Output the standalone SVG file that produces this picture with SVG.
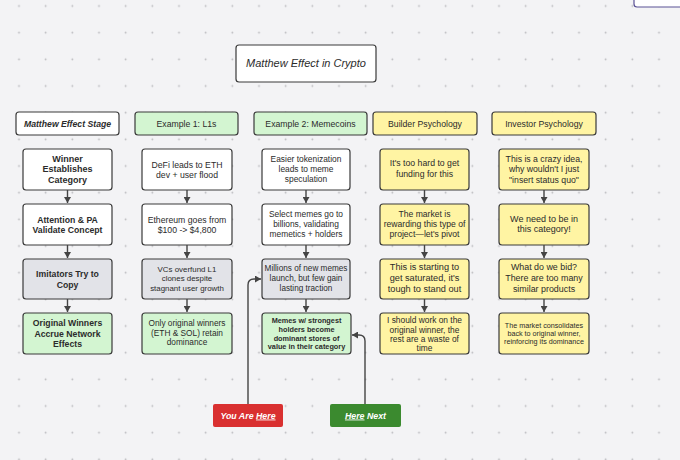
<svg xmlns="http://www.w3.org/2000/svg" width="680" height="460" viewBox="0 0 680 460">
<style>
text{font-family:"Liberation Sans",Arial,sans-serif;fill:#2b2b2b;text-anchor:middle;font-size:8.7px}
.b{font-weight:bold}
.i{font-style:italic}
.box{stroke:#3a3a3a;stroke-width:1.2}
.w{fill:#ffffff}
.g{fill:#e2e3e8}
.gr{fill:#d3f5d1}
.y{fill:#fff4a3}
.conn{fill:none;stroke:#444;stroke-width:1.4}
.wt{fill:#ffffff;font-weight:bold;font-style:italic;font-size:8.8px}
</style>
<defs>
<pattern id="dots" patternUnits="userSpaceOnUse" x="5.667" y="-7.333" width="26.667" height="26.667">
<circle cx="13.333" cy="13.333" r="0.9" fill="#b8b8bc"/>
</pattern>
<marker id="ah" markerUnits="userSpaceOnUse" markerWidth="7" markerHeight="7" refX="6" refY="3.5" orient="auto">
<path d="M0,0 L6,3.5 L0,7 z" fill="#444"/>
</marker>
</defs>
<rect width="680" height="460" fill="#f3f3f5"/>
<rect width="680" height="460" fill="url(#dots)"/>
<rect x="634" y="-10" width="60" height="17" rx="3" fill="#fff" stroke="#5b5295" stroke-width="1.2"/>

<g id="title"><rect class="box w" x="236" y="45" width="140" height="37" rx="3"/><text class="i" x="306" y="67" style="font-size:11px">Matthew Effect in Crypto</text></g>

<g id="h1"><rect class="box w" x="16" y="112" width="103" height="23" rx="3"/><text class="b i" x="67.5" y="126.5">Matthew Effect Stage</text></g>
<g id="h2"><rect class="box gr" x="135" y="112" width="103" height="23" rx="3"/><text x="186.5" y="126.5">Example 1: L1s</text></g>
<g id="h3"><rect class="box gr" x="254" y="112" width="113" height="23" rx="3"/><text x="310.5" y="126.5">Example 2: Memecoins</text></g>
<g id="h4"><rect class="box y" x="373" y="112" width="104" height="23" rx="3"/><text x="425" y="126.5">Builder Psychology</text></g>
<g id="h5"><rect class="box y" x="492" y="112" width="104" height="23" rx="3"/><text x="544" y="126.5">Investor Psychology</text></g>

<g id="c1r1"><rect class="box w" x="23" y="149" width="89" height="41" rx="3"/><text class="b" x="67.5" style="font-size:9px"><tspan x="67.5" y="161.5">Winner</tspan><tspan x="67.5" y="172">Establishes</tspan><tspan x="67.5" y="182.5">Category</tspan></text></g>
<g id="c1r2"><rect class="box w" x="23" y="204" width="89" height="41" rx="3"/><text class="b"><tspan x="67.5" y="222.5">Attention &amp; PA</tspan><tspan x="67.5" y="233">Validate Concept</tspan></text></g>
<g id="c1r3"><rect class="box g" x="23" y="259" width="89" height="40" rx="3"/><text class="b"><tspan x="67.5" y="277">Imitators Try to</tspan><tspan x="67.5" y="287.5">Copy</tspan></text></g>
<g id="c1r4"><rect class="box gr" x="23" y="313" width="89" height="41" rx="3"/><text class="b"><tspan x="67.5" y="326">Original Winners</tspan><tspan x="67.5" y="336.5">Accrue Network</tspan><tspan x="67.5" y="347">Effects</tspan></text></g>

<g id="c2r1"><rect class="box w" x="142" y="149" width="90" height="41" rx="3"/><text><tspan x="187" y="167.5">DeFi leads to ETH</tspan><tspan x="187" y="178">dev + user flood</tspan></text></g>
<g id="c2r2"><rect class="box w" x="142" y="204" width="90" height="41" rx="3"/><text><tspan x="187" y="222.5">Ethereum goes from</tspan><tspan x="187" y="233">$100 -&gt; $4,800</tspan></text></g>
<g id="c2r3"><rect class="box g" x="142" y="259" width="90" height="40" rx="3"/><text style="font-size:7.9px"><tspan x="187" y="271.5">VCs overfund L1</tspan><tspan x="187" y="281">clones despite</tspan><tspan x="187" y="290.5">stagnant user growth</tspan></text></g>
<g id="c2r4"><rect class="box gr" x="142" y="313" width="90" height="41" rx="3"/><text style="font-size:8.3px"><tspan x="187" y="326">Only original winners</tspan><tspan x="187" y="335.5">(ETH &amp; SOL) retain</tspan><tspan x="187" y="345">dominance</tspan></text></g>

<g id="c3r1"><rect class="box w" x="262" y="149" width="88" height="41" rx="3"/><text style="font-size:8.4px"><tspan x="306" y="162">Easier tokenization</tspan><tspan x="306" y="172">leads to meme</tspan><tspan x="306" y="182">speculation</tspan></text></g>
<g id="c3r2"><rect class="box w" x="262" y="204" width="88" height="41" rx="3"/><text style="font-size:8.4px"><tspan x="306" y="217">Select memes go to</tspan><tspan x="306" y="227">billions, validating</tspan><tspan x="306" y="237">memetics + holders</tspan></text></g>
<g id="c3r3"><rect class="box g" x="262" y="259" width="88" height="40" rx="3"/><text style="font-size:8.2px"><tspan x="306" y="271">Millions of new memes</tspan><tspan x="306" y="281">launch, but few gain</tspan><tspan x="306" y="290.5">lasting traction</tspan></text></g>
<g id="c3r4"><rect class="box gr" x="262" y="313" width="89" height="41" rx="3"/><text class="b" style="font-size:7.3px"><tspan x="306.5" y="323.3">Memes w/ strongest</tspan><tspan x="306.5" y="332">holders become</tspan><tspan x="306.5" y="340.5">dominant stores of</tspan><tspan x="306.5" y="349.3">value in their category</tspan></text></g>

<g id="c4r1"><rect class="box y" x="380" y="149" width="89" height="41" rx="3"/><text><tspan x="424.5" y="166">It's too hard to get</tspan><tspan x="424.5" y="177">funding for this</tspan></text></g>
<g id="c4r2"><rect class="box y" x="380" y="204" width="89" height="41" rx="3"/><text style="font-size:8.6px"><tspan x="424.5" y="216.5">The market is</tspan><tspan x="424.5" y="226.5">rewarding this type of</tspan><tspan x="424.5" y="236.5">project—let's pivot</tspan></text></g>
<g id="c4r3"><rect class="box y" x="380" y="259" width="89" height="40" rx="3"/><text style="font-size:9.2px"><tspan x="424.5" y="270">This is starting to</tspan><tspan x="424.5" y="280.5">get saturated, it's</tspan><tspan x="424.5" y="291.5">tough to stand out</tspan></text></g>
<g id="c4r4"><rect class="box y" x="380" y="313" width="89" height="41" rx="3"/><text style="font-size:8.4px"><tspan x="424.5" y="323">I should work on the</tspan><tspan x="424.5" y="332.5">original winner, the</tspan><tspan x="424.5" y="342">rest are a waste of</tspan><tspan x="424.5" y="351.3">time</tspan></text></g>

<g id="c5r1"><rect class="box y" x="499" y="149" width="90" height="41" rx="3"/><text><tspan x="544" y="161.5">This is a crazy idea,</tspan><tspan x="544" y="172">why wouldn't I just</tspan><tspan x="544" y="182.5">"insert status quo"</tspan></text></g>
<g id="c5r2"><rect class="box y" x="499" y="204" width="90" height="41" rx="3"/><text style="font-size:9px"><tspan x="544" y="221.5">We need to be in</tspan><tspan x="544" y="231.5">this category!</tspan></text></g>
<g id="c5r3"><rect class="box y" x="499" y="259" width="90" height="40" rx="3"/><text style="font-size:8.9px"><tspan x="544" y="270">What do we bid?</tspan><tspan x="544" y="281">There are too many</tspan><tspan x="544" y="291.5">similar products</tspan></text></g>
<g id="c5r4"><rect class="box y" x="499" y="313" width="90" height="41" rx="3"/><text style="font-size:7.2px"><tspan x="544" y="327.5">The market consolidates</tspan><tspan x="544" y="336">back to original winner,</tspan><tspan x="544" y="344.3">reinforcing its dominance</tspan></text></g>

<g id="youAreHere"><rect x="213" y="404" width="70" height="23" rx="2" fill="#d93030"/><text class="wt" x="248" y="418.5">You Are <tspan text-decoration="underline">Here</tspan></text></g>
<g id="hereNext"><rect x="330" y="404" width="71" height="23" rx="2" fill="#3b8a2f"/><text class="wt" x="365.5" y="418.5"><tspan text-decoration="underline">Here</tspan> Next</text></g>

<g id="connectors">
<path class="conn" marker-end="url(#ah)" d="M67.5,190 V203"/>
<path class="conn" marker-end="url(#ah)" d="M67.5,245 V258"/>
<path class="conn" marker-end="url(#ah)" d="M67.5,299 V312"/>
<path class="conn" marker-end="url(#ah)" d="M187,190 V203"/>
<path class="conn" marker-end="url(#ah)" d="M187,245 V258"/>
<path class="conn" marker-end="url(#ah)" d="M187,299 V312"/>
<path class="conn" marker-end="url(#ah)" d="M306,190 V203"/>
<path class="conn" marker-end="url(#ah)" d="M306,245 V258"/>
<path class="conn" marker-end="url(#ah)" d="M306,299 V312"/>
<path class="conn" marker-end="url(#ah)" d="M424.5,190 V203"/>
<path class="conn" marker-end="url(#ah)" d="M424.5,245 V258"/>
<path class="conn" marker-end="url(#ah)" d="M424.5,299 V312"/>
<path class="conn" marker-end="url(#ah)" d="M544,190 V203"/>
<path class="conn" marker-end="url(#ah)" d="M544,245 V258"/>
<path class="conn" marker-end="url(#ah)" d="M544,299 V312"/>
<path class="conn" marker-end="url(#ah)" d="M248,404 V285 Q248,279 254,279 H261"/>
<path class="conn" marker-end="url(#ah)" d="M365,404 V341 Q365,335 359,335 H352"/>
</g>
</svg>
